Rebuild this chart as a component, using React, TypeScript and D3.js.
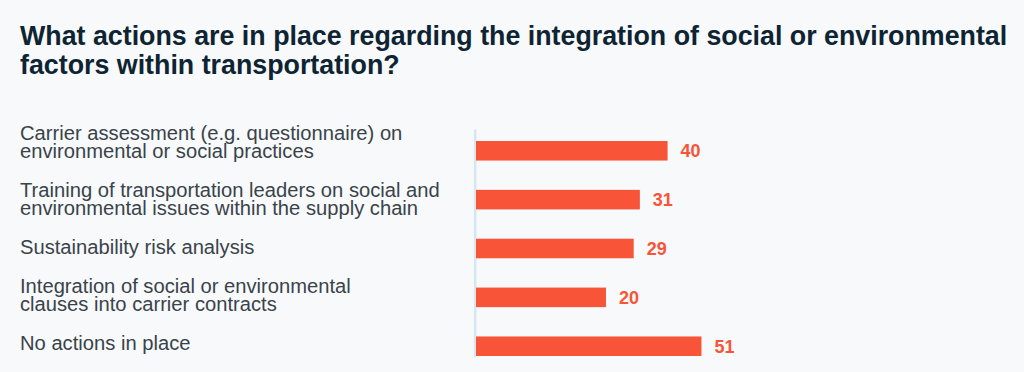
import React, { useEffect, useRef } from 'react';
import * as d3 from 'd3';

const titleLines = [
  'What actions are in place regarding the integration of social or environmental',
  'factors within transportation?',
];

// each category label, split as in the reference
const categories = [
  ['Carrier assessment (e.g. questionnaire) on', 'environmental or social practices'],
  ['Training of transportation leaders on social and', 'environmental issues within the supply chain'],
  ['Sustainability risk analysis'],
  ['Integration of social or environmental', 'clauses into carrier contracts'],
  ['No actions in place'],
];
const values = [40, 31, 29, 20, 51];

const W = 1024;
const H = 372;
const BG = '#f7f9fa';
const BAR = '#f75438';

const App = () => {
  const ref = useRef(null);

  useEffect(() => {
    document.body.style.margin = '0';
    document.body.style.background = BG;
    const svg = d3.select(ref.current);
    svg.selectAll('*').remove();

    svg.append('rect').attr('width', W).attr('height', H).attr('fill', BG);

    // title, fitted so the first line spans roughly 20 -> 1008
    const title = svg.append('g');
    const tText = title.selectAll('text')
      .data(titleLines)
      .enter().append('text')
      .attr('x', 20)
      .attr('y', (d, i) => 45 + i * 29)
      .attr('font-family', '"Liberation Sans", Arial, sans-serif')
      .attr('font-weight', 700)
      .attr('font-size', 25)
      .attr('fill', '#0e2433')
      .text(d => d);
    const t0 = tText.node().getComputedTextLength();
    if (t0 > 0) tText.attr('font-size', 25 * 988 / t0);

    // category labels, row heights follow line count
    const lineH = 18.4;
    const rowGap = 20.2;
    const baselines = [];
    let b = 140;
    categories.forEach(lines => {
      baselines.push(b);
      b += lines.length * lineH + rowGap;
    });

    const labels = svg.append('g');
    categories.forEach((lines, i) => {
      labels.append('text')
        .attr('class', 'cat')
        .attr('font-family', '"Liberation Sans", Arial, sans-serif')
        .attr('font-size', 17.5)
        .attr('fill', '#3a434a')
        .selectAll('tspan')
        .data(lines)
        .enter().append('tspan')
        .attr('x', 20)
        .attr('y', (d, j) => baselines[i] + j * lineH)
        .text(d => d);
    });
    const cats = labels.selectAll('text.cat');
    const widest = d3.max(cats.nodes(), n => n.getBBox().width);
    if (widest > 0) cats.attr('font-size', 17.5 * 420 / widest);

    // bars
    const x0 = 476;
    const x = d3.scaleLinear().domain([-22.2, 60]).range([x0, x0 + 3.08 * 82.2]);
    const y = d3.scaleBand()
      .domain(d3.range(values.length))
      .range([141, 356])
      .paddingInner(0.6)
      .paddingOuter(0);

    svg.append('line')
      .attr('x1', 475.2).attr('x2', 475.2)
      .attr('y1', 129.5).attr('y2', 357)
      .attr('stroke', '#d6e7f1')
      .attr('stroke-width', 2.5);

    svg.append('g')
      .selectAll('rect')
      .data(values)
      .enter().append('rect')
      .attr('x', x0)
      .attr('y', (d, i) => y(i))
      .attr('width', d => x(d) - x0)
      .attr('height', y.bandwidth())
      .attr('fill', BAR);

    svg.append('g')
      .selectAll('text')
      .data(values)
      .enter().append('text')
      .attr('x', d => x(d) + 13)
      .attr('y', (d, i) => y(i) + y.bandwidth() / 2)
      .attr('dy', '0.36em')
      .attr('font-family', '"Liberation Sans", Arial, sans-serif')
      .attr('font-weight', 700)
      .attr('font-size', 18)
      .attr('fill', BAR)
      .text(d => d);
  }, []);

  return (
    <div style={{ position: 'absolute', left: 0, top: 0 }}>
      <svg ref={ref} width={W} height={H} style={{ display: 'block' }} />
    </div>
  );
};

export default App;
